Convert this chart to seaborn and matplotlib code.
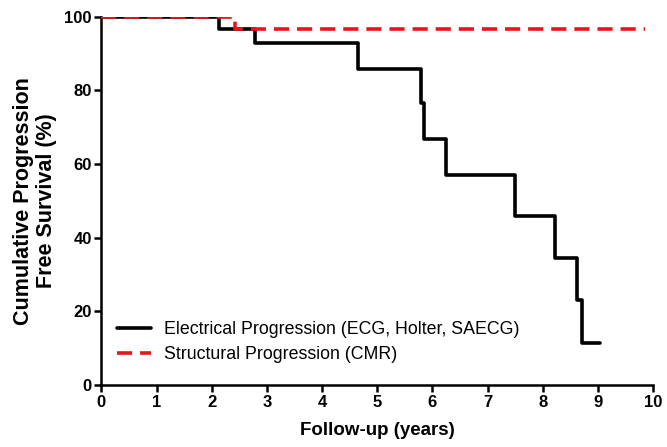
import numpy as np
import pandas as pd
import matplotlib
matplotlib.use("Agg")
import matplotlib.pyplot as plt
import seaborn as sns

# 資料 (步階曲線)
elec_time = [0, 2.14, 2.78, 4.66, 5.79, 5.84, 6.25, 7.49, 8.22, 8.62, 8.71, 9.04]
elec_surv = [100, 96.6, 92.9, 85.8, 76.6, 66.8, 57.1, 45.8, 34.4, 23.0, 11.4, 11.4]
struct_time = [0, 2.43, 9.85]
struct_surv = [100, 96.6, 96.6]
xticks = list(range(0, 11))
yticks = [0, 20, 40, 60, 80, 100]

sns.set_theme(style="ticks")
plt.rcParams["font.family"] = ["Liberation Sans", "DejaVu Sans"]
plt.rcParams["text.color"] = "black"
plt.rcParams["axes.labelcolor"] = "black"
plt.rcParams["xtick.color"] = "black"
plt.rcParams["ytick.color"] = "black"

df_elec = pd.DataFrame({"time": elec_time, "surv": elec_surv})
df_struct = pd.DataFrame({"time": struct_time, "surv": struct_surv})

fig = plt.figure(figsize=(6.67, 4.47), dpi=100)
ax = fig.add_axes([0.152, 0.139, 0.827, 0.824])

sns.lineplot(data=df_elec, x="time", y="surv", ax=ax, color="black",
             linewidth=2.6, drawstyle="steps-post",
             label="Electrical Progression (ECG, Holter, SAECG)")
sns.lineplot(data=df_struct, x="time", y="surv", ax=ax, color="#e8141c",
             linewidth=2.6, drawstyle="steps-post",
             label="Structural Progression (CMR)")
ax.lines[1].set_dashes([4.2, 2.2])

ax.set_xlim(0, 10)
ax.set_ylim(0, 100)
ax.set_xticks(xticks)
ax.set_yticks(yticks)
ax.tick_params(axis="both", direction="out", length=5, width=1.8,
               labelsize=12, pad=2)
for lab in ax.get_xticklabels() + ax.get_yticklabels():
    lab.set_fontweight("bold")

for s in ["top", "right"]:
    ax.spines[s].set_visible(False)
for s in ["left", "bottom"]:
    ax.spines[s].set_linewidth(1.8)
    ax.spines[s].set_color("black")
    ax.spines[s].set_zorder(1)

ax.set_xlabel("Follow-up (years)", fontsize=13.5, fontweight="bold", labelpad=9)
ax.set_ylabel("Cumulative Progression\nFree Survival (%)", fontsize=15.5,
              fontweight="bold", labelpad=5, linespacing=1.15)

leg = ax.legend(loc="lower left", bbox_to_anchor=(0.0, 0.015), frameon=False,
                fontsize=12.8, handlelength=1.9, handletextpad=0.7,
                labelspacing=0.45)
for h in leg.get_lines():
    h.set_linewidth(2.6)
leg.get_lines()[1].set_dashes([4.2, 2.2])

fig.savefig("out.png", dpi=100)
